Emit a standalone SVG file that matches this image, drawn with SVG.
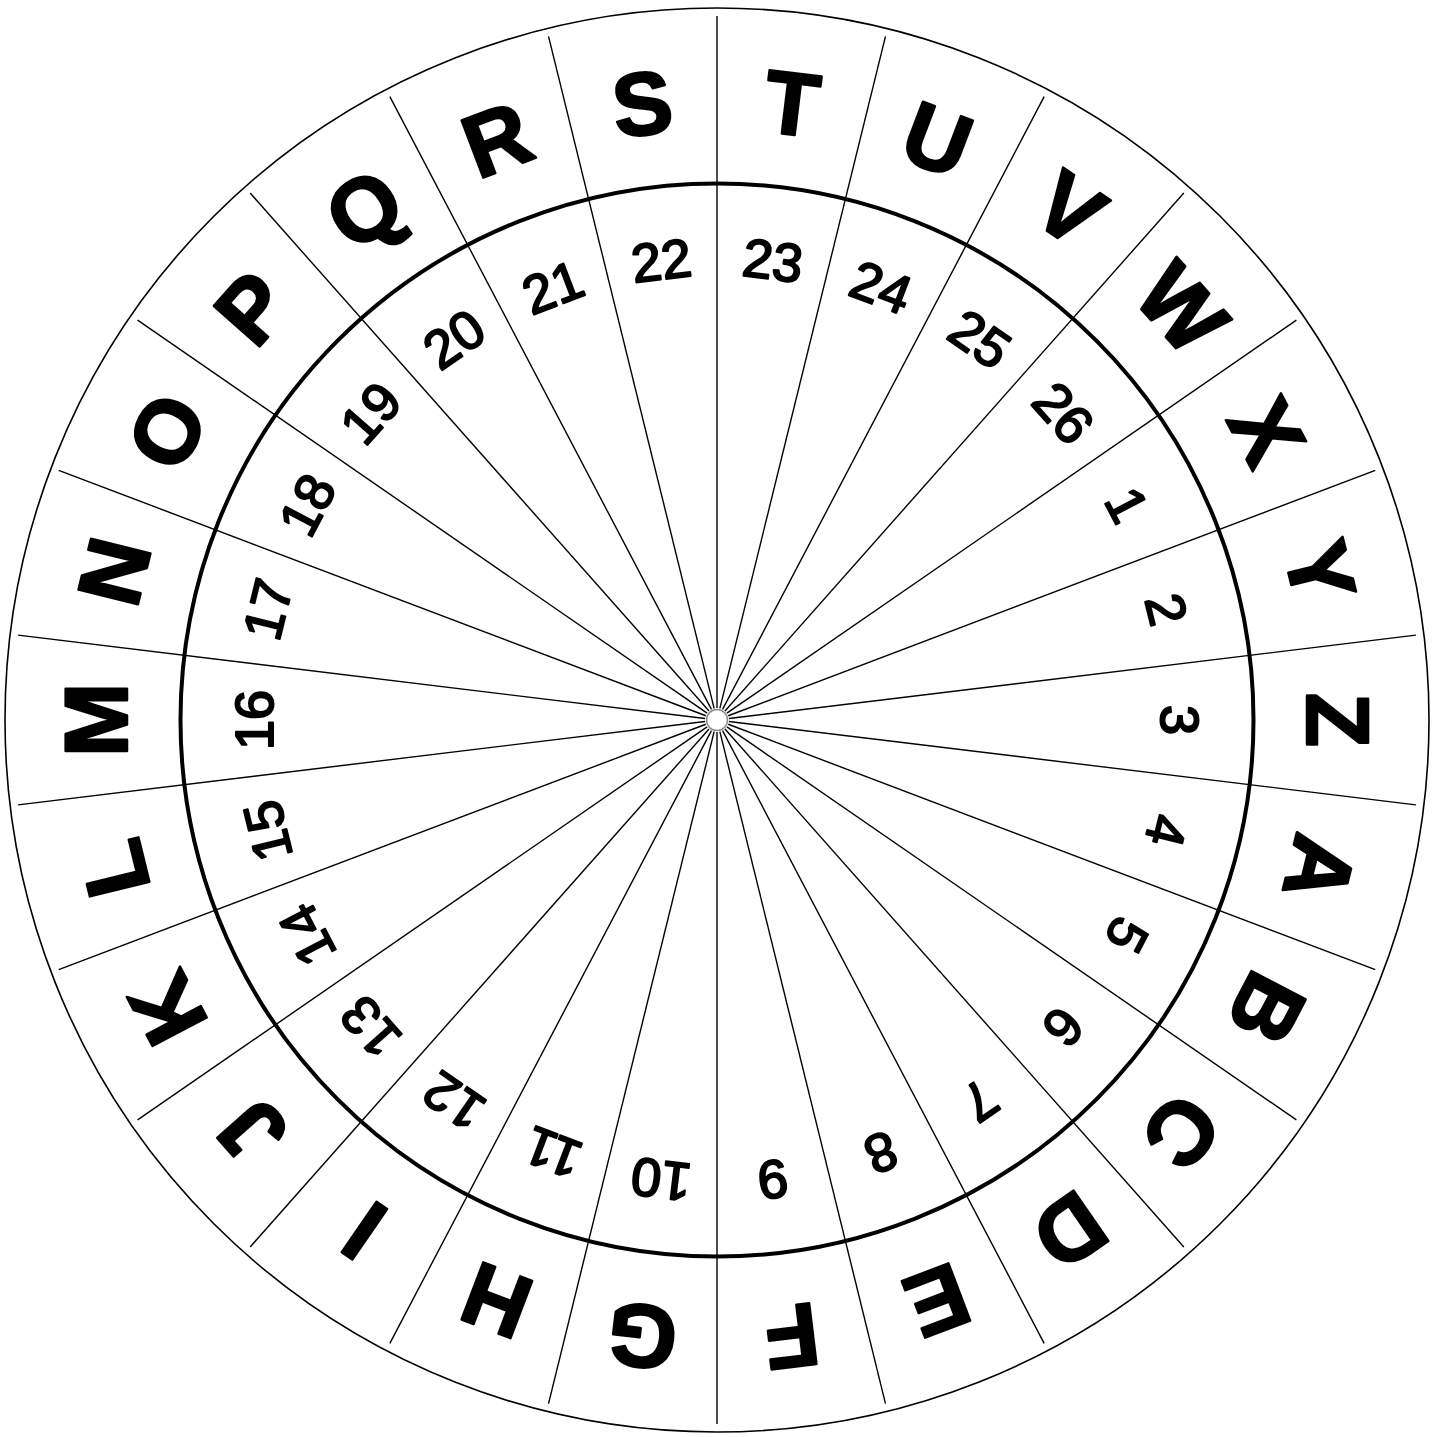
<svg xmlns="http://www.w3.org/2000/svg" xmlns:xlink="http://www.w3.org/1999/xlink" width="1442" height="1437" viewBox="0 0 1442 1437">
<style>
.let{font-family:"Liberation Sans",Arial,sans-serif;font-weight:bold;font-size:89px;text-anchor:middle;fill:#000;stroke:#000;stroke-width:2.5;stroke-linejoin:round}
.num{font-family:"Liberation Sans",Arial,sans-serif;font-weight:normal;font-size:54px;text-anchor:middle;fill:#000;stroke:#000;stroke-width:2;stroke-linejoin:round}
.spoke{stroke:#000;stroke-width:1.4}
</style>
<defs>
<line id="spoke" class="spoke" x1="717" y1="708" x2="717" y2="16"/>
</defs>
<rect width="1442" height="1437" fill="#fff"/>
<g id="rings">
<circle cx="717" cy="720" r="712" fill="none" stroke="#000" stroke-width="1.6"/>
<circle cx="717" cy="720" r="536.5" fill="none" stroke="#000" stroke-width="4"/>
</g>
<g id="connectors">
<use xlink:href="#spoke" transform="rotate(0 717 720)"/>
<use xlink:href="#spoke" transform="rotate(13.846 717 720)"/>
<use xlink:href="#spoke" transform="rotate(27.692 717 720)"/>
<use xlink:href="#spoke" transform="rotate(41.538 717 720)"/>
<use xlink:href="#spoke" transform="rotate(55.385 717 720)"/>
<use xlink:href="#spoke" transform="rotate(69.231 717 720)"/>
<use xlink:href="#spoke" transform="rotate(83.077 717 720)"/>
<use xlink:href="#spoke" transform="rotate(96.923 717 720)"/>
<use xlink:href="#spoke" transform="rotate(110.769 717 720)"/>
<use xlink:href="#spoke" transform="rotate(124.615 717 720)"/>
<use xlink:href="#spoke" transform="rotate(138.462 717 720)"/>
<use xlink:href="#spoke" transform="rotate(152.308 717 720)"/>
<use xlink:href="#spoke" transform="rotate(166.154 717 720)"/>
<use xlink:href="#spoke" transform="rotate(180 717 720)"/>
<use xlink:href="#spoke" transform="rotate(193.846 717 720)"/>
<use xlink:href="#spoke" transform="rotate(207.692 717 720)"/>
<use xlink:href="#spoke" transform="rotate(221.538 717 720)"/>
<use xlink:href="#spoke" transform="rotate(235.385 717 720)"/>
<use xlink:href="#spoke" transform="rotate(249.231 717 720)"/>
<use xlink:href="#spoke" transform="rotate(263.077 717 720)"/>
<use xlink:href="#spoke" transform="rotate(276.923 717 720)"/>
<use xlink:href="#spoke" transform="rotate(290.769 717 720)"/>
<use xlink:href="#spoke" transform="rotate(304.615 717 720)"/>
<use xlink:href="#spoke" transform="rotate(318.462 717 720)"/>
<use xlink:href="#spoke" transform="rotate(332.308 717 720)"/>
<use xlink:href="#spoke" transform="rotate(346.154 717 720)"/>
</g>
<g id="hub">
<circle cx="717" cy="720" r="10.5" fill="#fff" stroke="#888" stroke-width="1.5"/>
</g>
<g id="letters">
<text class="let" x="717" y="130" transform="rotate(6.923 717 720)">T</text>
<text class="let" x="717" y="130" transform="rotate(20.769 717 720)">U</text>
<text class="let" x="717" y="130" transform="rotate(34.615 717 720)">V</text>
<text class="let" x="717" y="130" transform="rotate(48.462 717 720)">W</text>
<text class="let" x="717" y="130" transform="rotate(62.308 717 720)">X</text>
<text class="let" x="717" y="130" transform="rotate(76.154 717 720)">Y</text>
<text class="let" x="717" y="130" transform="rotate(90 717 720)">Z</text>
<text class="let" x="717" y="130" transform="rotate(103.846 717 720)">A</text>
<text class="let" x="717" y="130" transform="rotate(117.692 717 720)">B</text>
<text class="let" x="717" y="130" transform="rotate(131.538 717 720)">C</text>
<text class="let" x="717" y="130" transform="rotate(145.385 717 720)">D</text>
<text class="let" x="717" y="130" transform="rotate(159.231 717 720)">E</text>
<text class="let" x="717" y="130" transform="rotate(173.077 717 720)">F</text>
<text class="let" x="717" y="130" transform="rotate(186.923 717 720)">G</text>
<text class="let" x="717" y="130" transform="rotate(200.769 717 720)">H</text>
<text class="let" x="717" y="130" transform="rotate(214.615 717 720)">I</text>
<text class="let" x="717" y="130" transform="rotate(228.462 717 720)">J</text>
<text class="let" x="717" y="130" transform="rotate(242.308 717 720)">K</text>
<text class="let" x="717" y="130" transform="rotate(256.154 717 720)">L</text>
<text class="let" x="717" y="130" transform="rotate(270 717 720)">M</text>
<text class="let" x="717" y="130" transform="rotate(283.846 717 720)">N</text>
<text class="let" x="717" y="130" transform="rotate(297.692 717 720)">O</text>
<text class="let" x="717" y="130" transform="rotate(311.538 717 720)">P</text>
<text class="let" x="717" y="130" transform="rotate(325.385 717 720)">Q</text>
<text class="let" x="717" y="130" transform="rotate(339.231 717 720)">R</text>
<text class="let" x="717" y="130" transform="rotate(353.077 717 720)">S</text>
</g>
<g id="numbers">
<text class="num" x="717" y="276" transform="rotate(6.923 717 720)">23</text>
<text class="num" x="717" y="276" transform="rotate(20.769 717 720)">24</text>
<text class="num" x="717" y="276" transform="rotate(34.615 717 720)">25</text>
<text class="num" x="717" y="276" transform="rotate(48.462 717 720)">26</text>
<text class="num" x="717" y="276" transform="rotate(62.308 717 720)">1</text>
<text class="num" x="717" y="276" transform="rotate(76.154 717 720)">2</text>
<text class="num" x="717" y="276" transform="rotate(90 717 720)">3</text>
<text class="num" x="717" y="276" transform="rotate(103.846 717 720)">4</text>
<text class="num" x="717" y="276" transform="rotate(117.692 717 720)">5</text>
<text class="num" x="717" y="276" transform="rotate(131.538 717 720)">6</text>
<text class="num" x="717" y="276" transform="rotate(145.385 717 720)">7</text>
<text class="num" x="717" y="276" transform="rotate(159.231 717 720)">8</text>
<text class="num" x="717" y="276" transform="rotate(173.077 717 720)">9</text>
<text class="num" x="717" y="276" transform="rotate(186.923 717 720)">10</text>
<text class="num" x="717" y="276" transform="rotate(200.769 717 720)">11</text>
<text class="num" x="717" y="276" transform="rotate(214.615 717 720)">12</text>
<text class="num" x="717" y="276" transform="rotate(228.462 717 720)">13</text>
<text class="num" x="717" y="276" transform="rotate(242.308 717 720)">14</text>
<text class="num" x="717" y="276" transform="rotate(256.154 717 720)">15</text>
<text class="num" x="717" y="276" transform="rotate(270 717 720)">16</text>
<text class="num" x="717" y="276" transform="rotate(283.846 717 720)">17</text>
<text class="num" x="717" y="276" transform="rotate(297.692 717 720)">18</text>
<text class="num" x="717" y="276" transform="rotate(311.538 717 720)">19</text>
<text class="num" x="717" y="276" transform="rotate(325.385 717 720)">20</text>
<text class="num" x="717" y="276" transform="rotate(339.231 717 720)">21</text>
<text class="num" x="717" y="276" transform="rotate(353.077 717 720)">22</text>
</g>
</svg>
